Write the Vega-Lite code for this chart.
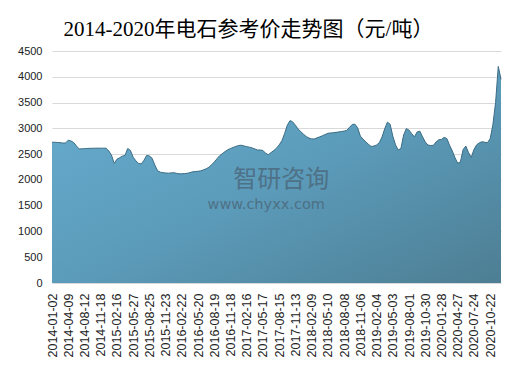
{
  "$schema": "https://vega.github.io/schema/vega-lite/v6.json",
  "width": 449,
  "height": 232,
  "autosize": {"type": "none"},
  "padding": {"left": 52, "top": 51, "right": 30, "bottom": 98},
  "background": "#ffffff",
  "title": {
    "text": "2014-2020年电石参考价走势图（元/吨）",
    "font": "Liberation Serif, Noto Sans CJK SC",
    "fontSize": 21,
    "fontWeight": "normal",
    "color": "#000000",
    "anchor": "middle",
    "dx": -28,
    "offset": 5
  },
  "config": {
    "view": {"stroke": null},
    "axis": {"labelFont": "Liberation Sans", "labelColor": "#222222"}
  },
  "resolve": {"axis": {"x": "independent", "y": "independent"}},
  "layer": [
    {
      "data": {"values": [
        {"date":"2014-01-02","price":2730},{"date":"2014-01-17","price":2730},{"date":"2014-02-07","price":2725},{"date":"2014-02-24","price":2722},{"date":"2014-03-11","price":2715},{"date":"2014-03-25","price":2715},
        {"date":"2014-04-09","price":2770},{"date":"2014-04-30","price":2755},{"date":"2014-05-21","price":2725},{"date":"2014-06-11","price":2660},{"date":"2014-07-02","price":2600},{"date":"2014-07-22","price":2602},
        {"date":"2014-08-12","price":2606},{"date":"2014-08-28","price":2610},{"date":"2014-09-15","price":2612},{"date":"2014-09-30","price":2613},{"date":"2014-10-20","price":2614},{"date":"2014-11-04","price":2615},
        {"date":"2014-11-18","price":2615},{"date":"2014-12-03","price":2615},{"date":"2014-12-17","price":2615},{"date":"2014-12-31","price":2560},{"date":"2015-01-15","price":2480},{"date":"2015-01-30","price":2320},
        {"date":"2015-02-16","price":2400},{"date":"2015-03-06","price":2430},{"date":"2015-03-20","price":2460},{"date":"2015-04-03","price":2475},{"date":"2015-04-22","price":2610},{"date":"2015-05-08","price":2570},
        {"date":"2015-05-27","price":2440},{"date":"2015-06-10","price":2370},{"date":"2015-06-25","price":2320},{"date":"2015-07-09","price":2310},{"date":"2015-07-24","price":2380},{"date":"2015-08-10","price":2475},
        {"date":"2015-08-25","price":2465},{"date":"2015-09-09","price":2420},{"date":"2015-09-23","price":2290},{"date":"2015-10-14","price":2180},{"date":"2015-10-28","price":2150},{"date":"2015-11-09","price":2140},
        {"date":"2015-11-23","price":2135},{"date":"2015-12-07","price":2130},{"date":"2015-12-21","price":2135},{"date":"2016-01-06","price":2140},{"date":"2016-01-20","price":2128},{"date":"2016-02-03","price":2118},
        {"date":"2016-02-22","price":2118},{"date":"2016-03-07","price":2122},{"date":"2016-03-21","price":2128},{"date":"2016-04-06","price":2140},{"date":"2016-04-20","price":2157},{"date":"2016-05-05","price":2163},
        {"date":"2016-05-20","price":2167},{"date":"2016-06-03","price":2175},{"date":"2016-06-20","price":2195},{"date":"2016-07-05","price":2215},{"date":"2016-07-19","price":2245},{"date":"2016-08-03","price":2295},
        {"date":"2016-08-19","price":2345},{"date":"2016-09-02","price":2410},{"date":"2016-09-19","price":2470},{"date":"2016-10-10","price":2510},{"date":"2016-10-24","price":2550},{"date":"2016-11-04","price":2585},
        {"date":"2016-11-18","price":2610},{"date":"2016-12-02","price":2630},{"date":"2016-12-16","price":2650},{"date":"2017-01-03","price":2667},{"date":"2017-01-17","price":2672},{"date":"2017-02-03","price":2658},
        {"date":"2017-02-16","price":2645},{"date":"2017-03-02","price":2635},{"date":"2017-03-16","price":2620},{"date":"2017-03-30","price":2600},{"date":"2017-04-17","price":2580},{"date":"2017-05-03","price":2580},
        {"date":"2017-05-17","price":2570},{"date":"2017-05-31","price":2515},{"date":"2017-06-15","price":2490},{"date":"2017-06-29","price":2530},{"date":"2017-07-14","price":2570},{"date":"2017-07-31","price":2615},
        {"date":"2017-08-15","price":2680},{"date":"2017-08-29","price":2760},{"date":"2017-09-12","price":2900},{"date":"2017-09-26","price":3060},{"date":"2017-10-17","price":3150},{"date":"2017-10-31","price":3125},
        {"date":"2017-11-13","price":3060},{"date":"2017-11-27","price":2985},{"date":"2017-12-11","price":2935},{"date":"2017-12-26","price":2885},{"date":"2018-01-10","price":2840},{"date":"2018-01-25","price":2812},
        {"date":"2018-02-09","price":2795},{"date":"2018-02-28","price":2795},{"date":"2018-03-14","price":2815},{"date":"2018-03-28","price":2835},{"date":"2018-04-13","price":2858},{"date":"2018-04-26","price":2880},
        {"date":"2018-05-10","price":2904},{"date":"2018-05-24","price":2910},{"date":"2018-06-07","price":2915},{"date":"2018-06-22","price":2922},{"date":"2018-07-09","price":2930},{"date":"2018-07-24","price":2938},
        {"date":"2018-08-08","price":2946},{"date":"2018-08-22","price":2960},{"date":"2018-09-05","price":3020},{"date":"2018-09-19","price":3075},{"date":"2018-10-10","price":3080},{"date":"2018-10-24","price":3010},
        {"date":"2018-11-06","price":2850},{"date":"2018-11-20","price":2790},{"date":"2018-12-04","price":2740},{"date":"2018-12-18","price":2690},{"date":"2019-01-03","price":2648},{"date":"2019-01-18","price":2655},
        {"date":"2019-02-04","price":2677},{"date":"2019-02-20","price":2720},{"date":"2019-03-06","price":2830},{"date":"2019-03-20","price":2990},{"date":"2019-04-03","price":3120},{"date":"2019-04-18","price":3080},
        {"date":"2019-05-03","price":2850},{"date":"2019-05-17","price":2680},{"date":"2019-05-31","price":2580},{"date":"2019-06-17","price":2610},{"date":"2019-07-01","price":2870},{"date":"2019-07-16","price":2995},
        {"date":"2019-08-01","price":2965},{"date":"2019-08-15","price":2895},{"date":"2019-08-29","price":2835},{"date":"2019-09-12","price":2930},{"date":"2019-09-27","price":2945},{"date":"2019-10-16","price":2835},
        {"date":"2019-10-30","price":2735},{"date":"2019-11-13","price":2675},{"date":"2019-11-27","price":2667},{"date":"2019-12-11","price":2670},{"date":"2019-12-25","price":2735},{"date":"2020-01-10","price":2778},
        {"date":"2020-01-28","price":2785},{"date":"2020-02-11","price":2825},{"date":"2020-02-25","price":2800},{"date":"2020-03-10","price":2670},{"date":"2020-03-24","price":2560},{"date":"2020-04-10","price":2430},
        {"date":"2020-04-27","price":2322},{"date":"2020-05-13","price":2350},{"date":"2020-05-27","price":2590},{"date":"2020-06-10","price":2655},{"date":"2020-06-24","price":2530},{"date":"2020-07-09","price":2435},
        {"date":"2020-07-24","price":2590},{"date":"2020-08-07","price":2680},{"date":"2020-08-21","price":2720},{"date":"2020-09-04","price":2740},{"date":"2020-09-18","price":2730},{"date":"2020-10-09","price":2722},
        {"date":"2020-10-22","price":2800},{"date":"2020-11-05","price":3070},{"date":"2020-11-19","price":3500},{"date":"2020-12-03","price":4200},{"date":"2020-12-17","price":3950}
      ]},
      "mark": {
        "type": "area",
        "opacity": 1,
        "fillOpacity": 1,
        "color": {
          "gradient": "linear", "x1": 0, "y1": 0, "x2": 1, "y2": 1,
          "stops": [
            {"offset": 0, "color": "#68aed0"},
            {"offset": 0.5, "color": "#5c9cbb"},
            {"offset": 1, "color": "#4d7e93"}
          ]
        },
        "line": {"color": "#3a6c84", "strokeWidth": 1}
      },
      "encoding": {
        "x": {
          "field": "date", "type": "ordinal",
          "scale": {"type": "point", "padding": 0},
          "axis": {
            "title": null,
            "values": ["2014-01-02","2014-04-09","2014-08-12","2014-11-18","2015-02-16","2015-05-27","2015-08-25","2015-11-23","2016-02-22","2016-05-20","2016-08-19","2016-11-18","2017-02-16","2017-05-17","2017-08-15","2017-11-13","2018-02-09","2018-05-10","2018-08-08","2018-11-06","2019-02-04","2019-05-03","2019-08-01","2019-10-30","2020-01-28","2020-04-27","2020-07-24","2020-10-22"],
            "labelAngle": -90,
            "labelFontSize": 12.5,
            "labelPadding": 10,
            "labelOverlap": false,
            "ticks": false,
            "domain": false,
            "grid": false
          }
        },
        "y": {
          "field": "price", "type": "quantitative",
          "scale": {"domain": [0, 4500], "nice": false},
          "axis": {
            "title": null,
            "values": [0,500,1000,1500,2000,2500,3000,3500,4000,4500],
            "format": "d",
            "labelFontSize": 11,
            "labelPadding": 10,
            "labelOverlap": false,
            "ticks": false,
            "domain": false,
            "grid": true,
            "gridColor": "#d9d9d9",
            "gridWidth": 1
          }
        }
      }
    },
    {
      "data": {"values": [{}]},
      "mark": {"type": "text", "text": "智研咨询", "font": "Noto Sans CJK SC", "fontSize": 24, "fill": "#4c6a7e", "opacity": 0.85, "align": "center", "baseline": "middle", "dx": 2},
      "encoding": {
        "x": {"datum": "2017-08-15", "type": "ordinal", "axis": null},
        "y": {"datum": 2000, "type": "quantitative", "axis": null}
      }
    },
    {
      "data": {"values": [{}]},
      "mark": {"type": "text", "text": "www.chyxx.com", "font": "DejaVu Sans", "fontSize": 14.5, "fill": "#4c6a7e", "opacity": 0.85, "align": "center", "baseline": "middle", "dx": -13},
      "encoding": {
        "x": {"datum": "2017-08-15", "type": "ordinal", "axis": null},
        "y": {"datum": 1520, "type": "quantitative", "axis": null}
      }
    }
  ]
}
